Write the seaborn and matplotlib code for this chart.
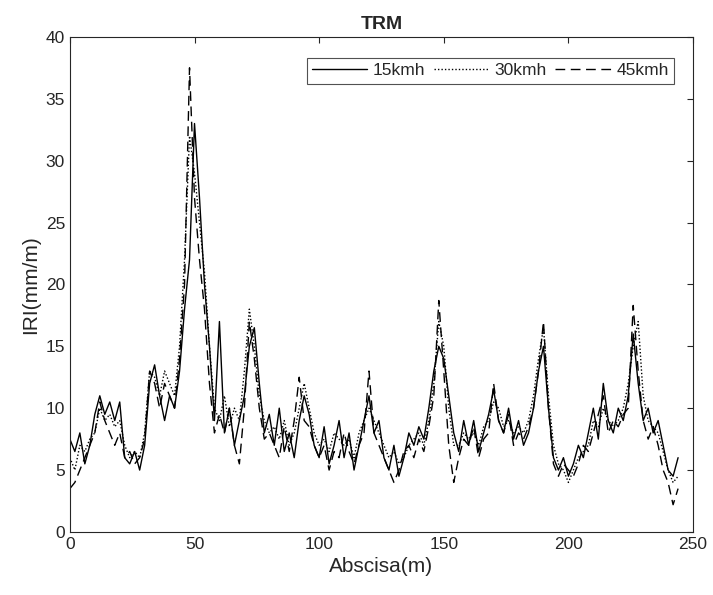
import numpy as np
import pandas as pd
import matplotlib
matplotlib.use("Agg")
import matplotlib.pyplot as plt
import seaborn as sns

# abscissa every 2 m, 0..244
abscisa = np.arange(0, 245, 2)

iri_15 = [7.5, 6.5, 8.0, 5.5, 7.0, 9.5, 11.0, 9.5, 10.5, 9.0,
          10.5, 6.0, 5.5, 6.5, 5.0, 7.0, 12.0, 13.5, 11.0, 9.0,
          11.0, 10.0, 13.0, 18.0, 22.0, 33.0, 27.0, 20.0, 15.0, 9.0,
          17.0, 8.0, 10.0, 7.0, 9.0, 11.0, 15.0, 16.5, 12.0, 8.0,
          9.5, 7.0, 10.0, 6.5, 8.0, 6.0, 9.0, 11.0, 9.5, 7.0,
          6.0, 8.5, 5.5, 7.0, 9.0, 6.0, 8.0, 5.0, 7.0, 9.0,
          11.0, 8.0, 9.0, 6.0, 5.0, 7.0, 4.5, 6.0, 8.0, 7.0,
          8.5, 7.5, 10.0, 13.0, 15.0, 14.0, 11.0, 8.0, 6.5, 9.0,
          7.0, 9.0, 6.5, 8.0, 9.5, 11.5, 9.0, 8.0, 10.0, 7.5,
          9.0, 7.0, 8.0, 10.0, 13.0, 15.0, 10.0, 6.0, 5.0, 6.0,
          4.5, 5.5, 7.0, 6.0, 8.0, 10.0, 7.5, 12.0, 9.0, 8.0,
          10.0, 9.0, 11.0, 16.0, 12.0, 9.0, 10.0, 8.0, 9.0, 7.0,
          5.0, 4.5, 6.0]

iri_30 = [6.0, 5.0, 7.0, 6.5, 7.5, 8.0, 10.0, 9.0, 9.5, 8.5,
          9.0, 7.0, 6.0, 6.5, 6.0, 8.0, 13.0, 12.5, 11.0, 13.0,
          12.0, 11.0, 15.0, 22.0, 32.0, 29.0, 25.0, 21.0, 15.0, 10.0,
          9.0, 11.0, 8.5, 10.0, 9.0, 13.0, 18.0, 15.0, 11.0, 9.0,
          8.0, 8.5, 7.5, 9.0, 7.0, 8.0, 10.0, 12.0, 10.0, 8.0,
          7.0, 7.5, 6.5, 8.0, 7.5, 7.0, 7.5, 6.0, 8.0, 9.0,
          10.0, 9.0, 8.0, 7.0, 6.0, 6.5, 5.5, 6.0, 7.0, 7.5,
          8.0, 7.0, 9.0, 12.0, 17.0, 15.0, 10.0, 7.0, 7.0, 8.0,
          7.5, 8.0, 7.0, 8.5, 9.0, 10.5, 10.0, 8.5, 9.0, 8.0,
          8.5, 8.0, 9.0, 11.0, 14.0, 16.5, 11.0, 7.0, 5.5, 5.0,
          4.0, 5.0, 6.0, 6.5, 7.0, 9.0, 8.5, 10.0, 9.0, 8.5,
          9.0, 10.0, 12.0, 15.0, 17.0, 11.0, 9.0, 8.5, 8.0, 6.5,
          5.0, 4.0, 4.5]

iri_45 = [3.5, 4.0, 5.0, 6.0, 7.0, 8.0, 10.5, 9.0, 8.0, 7.0,
          8.0, 6.0, 6.5, 5.5, 6.0, 7.5, 13.0, 12.0, 10.0, 12.0,
          11.0, 10.0, 14.0, 20.0, 37.5, 27.0, 22.0, 18.0, 12.0, 8.0,
          9.5, 8.0, 10.0, 7.0, 5.5, 10.0, 17.0, 14.0, 10.0, 7.5,
          8.0, 7.0, 6.0, 8.5, 6.5, 9.0, 12.5, 9.0, 8.5, 7.0,
          6.0, 7.0, 5.0, 6.5, 6.0, 8.0, 6.5, 5.5, 7.0, 8.0,
          13.0, 8.0, 7.0, 6.0, 5.0, 4.0, 5.0, 6.5, 7.0, 6.0,
          7.5, 6.5, 8.5, 11.0, 18.7, 13.0, 7.0, 4.0, 6.0, 7.5,
          7.0, 8.5, 6.0, 7.5, 8.0, 12.0, 9.0, 8.0, 9.5, 7.0,
          8.0, 7.5, 8.5, 10.0, 13.0, 17.0, 10.0, 5.5, 4.5, 5.5,
          5.0, 4.5, 5.5, 7.0, 6.5, 8.0, 9.5, 11.0, 8.0, 9.0,
          8.5, 9.5, 10.0, 18.3, 13.0, 9.0, 7.5, 8.5, 7.0, 5.0,
          4.0, 2.2, 3.5]

sns.set_style("white")
plt.rcParams['font.family'] = ['Liberation Sans', 'DejaVu Sans']

fig = plt.figure(figsize=(7.13, 5.95), dpi=100)
ax = fig.add_axes([0.098, 0.106, 0.874, 0.832])

data = pd.DataFrame({'x': abscisa, '15kmh': iri_15, '30kmh': iri_30, '45kmh': iri_45})
sns.lineplot(data=data, x='x', y='15kmh', ax=ax, color='black', lw=1.0, label='15kmh')
sns.lineplot(data=data, x='x', y='30kmh', ax=ax, color='black', lw=1.0,
             linestyle=(0, (1, 1.5)), label='30kmh')
sns.lineplot(data=data, x='x', y='45kmh', ax=ax, color='black', lw=1.0,
             linestyle=(0, (7, 4)), label='45kmh')

ax.set_xlim(0, 250)
ax.set_ylim(0, 40)
ax.set_xticks(range(0, 251, 50))
ax.set_yticks(range(0, 41, 5))
ax.tick_params(direction='in', length=4, labelsize=12.5, colors='#262626',
               top=True, right=True)
for s in ax.spines.values():
    s.set_color('#262626')
    s.set_linewidth(0.8)
ax.set_xlabel('Abscisa(m)', fontsize=15, color='#262626')
ax.set_ylabel('IRI(mm/m)', fontsize=15, color='#262626')
ax.set_title('TRM', fontsize=14, fontweight='bold', pad=6)

leg = ax.legend(loc='upper right', ncol=3, frameon=True, fancybox=False,
                edgecolor='#262626', fontsize=12.5, handlelength=3.2,
                columnspacing=0.5, handletextpad=0.3, borderpad=0.3,
                bbox_to_anchor=(0.983, 0.975))
leg.get_frame().set_linewidth(0.8)

fig.savefig('out.png', dpi=100)
